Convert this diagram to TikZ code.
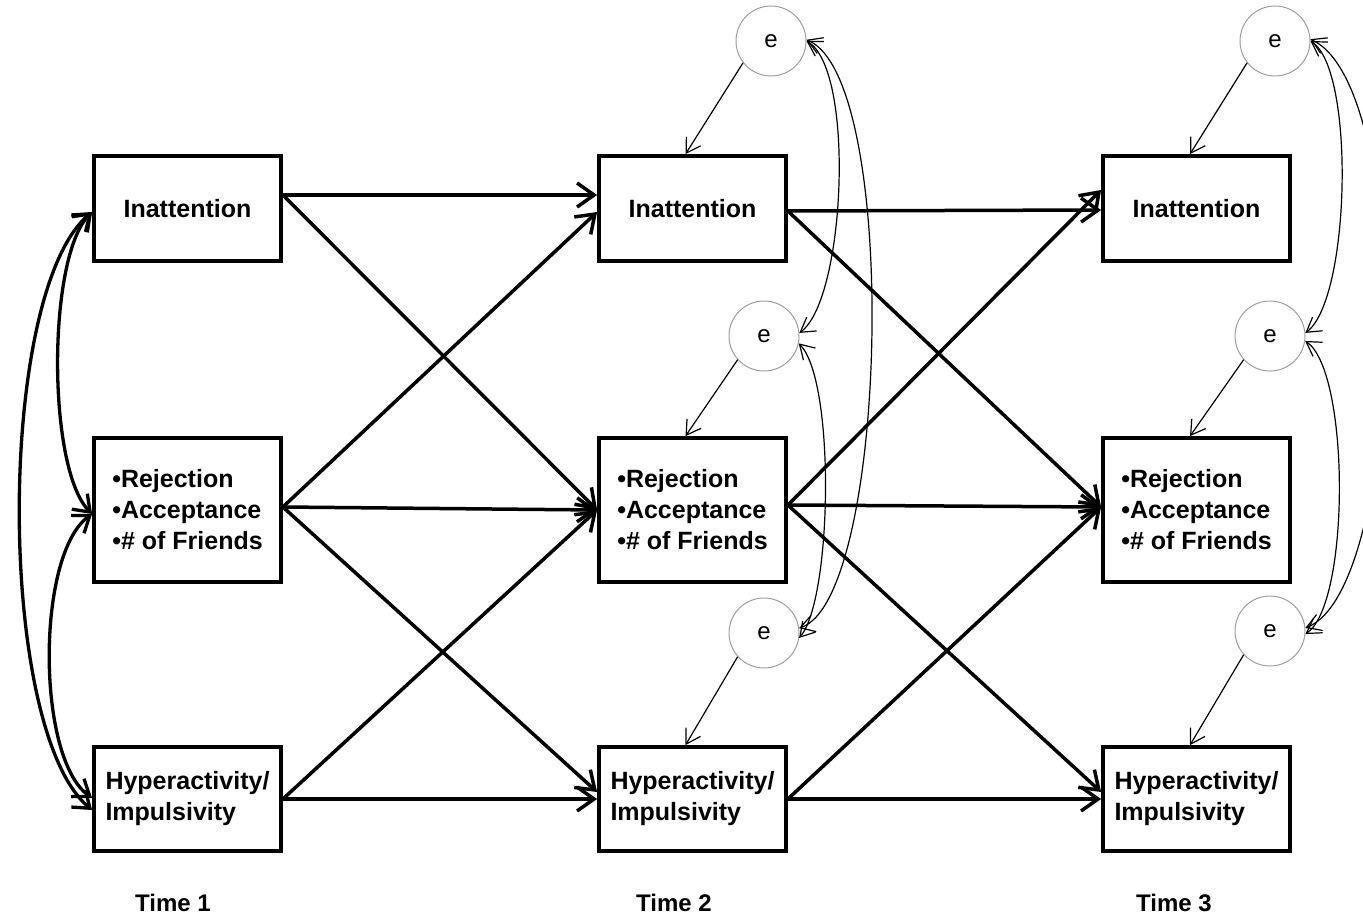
\documentclass[tikz,border=0pt]{standalone}
\usepackage{fontspec}
\setmainfont{Liberation Sans}
\usetikzlibrary{arrows.meta,calc}
\begin{document}
\begin{tikzpicture}[x=1pt,y=-1pt,
  box/.style={draw, line width=3.8pt, minimum width=187pt, inner sep=0pt, font=\fontsize{25}{31}\selectfont\bfseries, align=left},
  err/.style={draw=gray!75, line width=1pt, circle, minimum size=70pt, inner sep=0pt, font=\fontsize{24}{28}\selectfont},
  regpath/.style={line width=3.5pt, -{Straight Barb[length=17pt,width=24pt]}},
  cov/.style={line width=3.3pt, {Straight Barb[length=15pt,width=22pt]}-{Straight Barb[length=15pt,width=22pt]}},
  ecov/.style={line width=1.2pt, {Straight Barb[length=14pt,width=17pt]}-{Straight Barb[length=14pt,width=17pt]}},
  epath/.style={line width=1.2pt, -{Straight Barb[length=14pt,width=17pt]}},
  timelbl/.style={font=\fontsize{24}{28}\selectfont\bfseries}
]
\useasboundingbox (0,0) rectangle (1363,923);

% boxes
\node[box, minimum height=105pt] (I1) at (187.5,208.5) {Inattention};
\node[box, minimum height=144pt] (R1) at (187.5,510) {•Rejection\\•Acceptance\\•\# of Friends};
\node[box, minimum height=104pt] (H1) at (187.5,799) {Hyperactivity/\\Impulsivity};
\node[box, minimum height=105pt] (I2) at (692.5,208.5) {Inattention};
\node[box, minimum height=144pt] (R2) at (692.5,510) {•Rejection\\•Acceptance\\•\# of Friends};
\node[box, minimum height=104pt] (H2) at (692.5,799) {Hyperactivity/\\Impulsivity};
\node[box, minimum height=105pt] (I3) at (1196.5,208.5) {Inattention};
\node[box, minimum height=144pt] (R3) at (1196.5,510) {•Rejection\\•Acceptance\\•\# of Friends};
\node[box, minimum height=104pt] (H3) at (1196.5,799) {Hyperactivity/\\Impulsivity};

% time labels
\node[timelbl] (t1) at (173,903) {Time 1};
\node[timelbl] (t2) at (674,903) {Time 2};
\node[timelbl] (t3) at (1174,903) {Time 3};

% error terms
\node[err] (e2a) at (771,41) {e};
\node[err] (e2b) at (764,336) {e};
\node[err] (e2c) at (764,633) {e};
\node[err] (e3a) at (1275,41) {e};
\node[err] (e3b) at (1270,336) {e};
\node[err] (e3c) at (1270,631) {e};

% error paths
\draw[epath] (e2a.218) -- ([xshift=-7pt]I2.north);
\draw[epath] (e2b.222) -- ([xshift=-7pt]R2.north);
\draw[epath] (e2c.222) -- ([xshift=-7pt]H2.north);
\draw[epath] (e3a.218) -- ([xshift=-6.5pt]I3.north);
\draw[epath] (e3b.222) -- ([xshift=-6.5pt]R3.north);
\draw[epath] (e3c.222) -- ([xshift=-6.5pt]H3.north);

% residual covariances, time 2
\draw[ecov] (e2a.east) .. controls +(49,29) and +(46,-33) .. (e2b.5);
\draw[ecov] (e2a.2) .. controls +(94,39) and +(89,-28) .. (e2c.8);
\draw[ecov] (e2b.-12) .. controls +(37,37) and +(33,-38) .. (e2c.-8);
% residual covariances, time 3
\draw[ecov] (e3a.east) .. controls +(45,29) and +(45,-33) .. (e3b.5);
\draw[ecov] (e3a.3) .. controls +(105,49) and +(100,-38) .. (e3c.5);
\draw[ecov] (e3b.-8) .. controls +(45,30) and +(45,-30) .. (e3c.-5);

% covariances, time 1
\draw[cov] ([yshift=-3.5pt]I1.west) .. controls +(-45,45) and +(-45,-45) .. ([yshift=-4pt]R1.west);
\draw[cov] ([yshift=-3.5pt]I1.west) .. controls +(-96,80) and +(-96,-80) .. ([yshift=-11pt]H1.west);
\draw[cov] ([yshift=-4pt]R1.west) .. controls +(-56,40) and +(-56,-40) .. ([yshift=1pt]H1.west);

% time 1 -> time 2
\draw[regpath] ([yshift=13.5pt]I1.east) -- ([yshift=13.5pt]I2.west);
\draw[regpath] ([yshift=13.5pt]I1.east) -- (R2.west);
\draw[regpath] ([yshift=3pt]R1.east) -- ([yshift=-3.5pt]I2.west);
\draw[regpath] ([yshift=3pt]R1.east) -- (R2.west);
\draw[regpath] ([yshift=3pt]R1.east) -- ([yshift=7pt]H2.west);
\draw[regpath] (H1.east) -- (R2.west);
\draw[regpath] (H1.east) -- (H2.west);

% time 2 -> time 3
\draw[regpath] ([yshift=-2.5pt]I2.east) -- ([yshift=-1.5pt]I3.west);
\draw[regpath] ([yshift=-2.5pt]I2.east) -- ([yshift=3pt]R3.west);
\draw[regpath] ([yshift=5pt]R2.east) -- ([yshift=18.5pt]I3.west);
\draw[regpath] ([yshift=5pt]R2.east) -- ([yshift=3pt]R3.west);
\draw[regpath] ([yshift=5pt]R2.east) -- ([yshift=7pt]H3.west);
\draw[regpath] (H2.east) -- ([yshift=3pt]R3.west);
\draw[regpath] (H2.east) -- (H3.west);
\end{tikzpicture}
\end{document}
